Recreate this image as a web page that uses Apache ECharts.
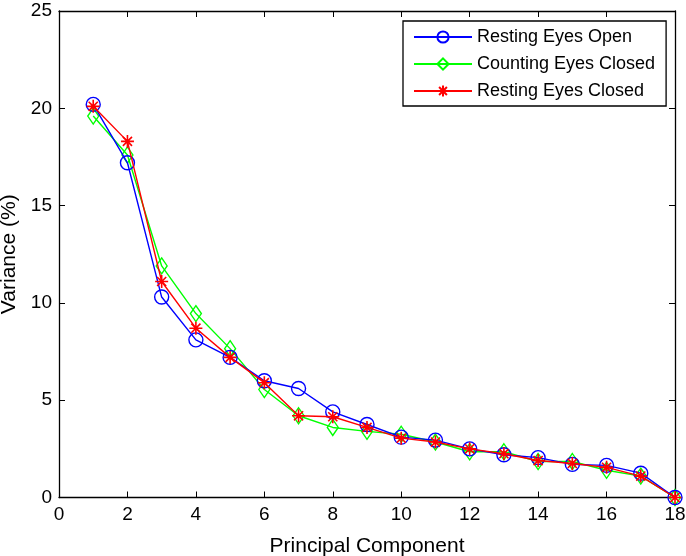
<!DOCTYPE html>
<html>
<head>
<meta charset="utf-8">
<script src="https://cdn.jsdelivr.net/npm/echarts@6/dist/echarts.min.js"></script>
<style>
  html, body { margin: 0; padding: 0; background: #fff; }
  #chart { width: 686px; height: 556px; }
</style>
</head>
<body>
<div id="chart"></div>
<script>
const components = [1,2,3,4,5,6,7,8,9,10,11,12,13,14,15,16,17,18];
const restingEyesOpen = [20.2,17.2,10.3,8.1,7.2,6.0,5.6,4.4,3.75,3.1,2.95,2.5,2.2,2.05,1.7,1.65,1.25,0];
const countingEyesClosed = [19.6,17.6,11.9,9.45,7.65,5.55,4.2,3.6,3.4,3.25,2.85,2.35,2.35,1.85,1.85,1.4,1.1,0];
const restingEyesClosed = [20.1,18.3,11.1,8.7,7.2,5.9,4.2,4.15,3.6,3.05,2.85,2.5,2.25,1.9,1.75,1.55,1.1,0];
const seriesNames = ['Resting Eyes Open','Counting Eyes Closed','Resting Eyes Closed'];

const FONT = "'Liberation Sans', Arial, sans-serif";
const starPath = 'path://M0,-10 L0,10 M-10,0 L10,0 M-7,-7 L7,7 M-7,7 L7,-7';

function pairs(vals) { return components.map((c, i) => [c, vals[i]]); }

const chart = echarts.init(document.getElementById('chart'), null, { renderer: 'canvas' });

const tickCommon = { show: true, inside: true, length: 6, lineStyle: { color: '#000', width: 1 } };
const lineCommon = { show: true, onZero: false, lineStyle: { color: '#000', width: 1.3 } };

chart.setOption({
  animation: false,
  backgroundColor: '#fff',
  grid: { left: 59, top: 11, right: 11, bottom: 58.5, containLabel: false, outerBoundsMode: 'none' },
  legend: {
    orient: 'vertical',
    left: 403,
    top: 21,
    padding: [7, 11, 6, 10],
    itemGap: 9,
    itemWidth: 58,
    itemHeight: 14,
    backgroundColor: '#fff',
    borderColor: '#000',
    borderWidth: 1.3,
    textStyle: { fontFamily: FONT, fontSize: 18, color: '#000' },
    data: seriesNames
  },
  xAxis: [
    {
      type: 'value', min: 0, max: 18, interval: 2, position: 'bottom',
      name: 'Principal Component', nameLocation: 'middle', nameGap: 38,
      nameTextStyle: { fontFamily: FONT, fontSize: 21, color: '#000' },
      axisLine: lineCommon, axisTick: tickCommon,
      axisLabel: { fontFamily: FONT, fontSize: 19, color: '#000', margin: 8 },
      splitLine: { show: false }
    },
    {
      type: 'value', min: 0, max: 18, interval: 2, position: 'top',
      axisLine: lineCommon, axisTick: tickCommon,
      axisLabel: { show: false }, splitLine: { show: false }
    }
  ],
  yAxis: [
    {
      type: 'value', min: 0, max: 25, interval: 5, position: 'left',
      name: 'Variance (%)', nameLocation: 'middle', nameGap: 35,
      nameTextStyle: { fontFamily: FONT, fontSize: 21, color: '#000' },
      axisLine: lineCommon, axisTick: tickCommon,
      axisLabel: { fontFamily: FONT, fontSize: 19, color: '#000', margin: 7 },
      splitLine: { show: false }
    },
    {
      type: 'value', min: 0, max: 25, interval: 5, position: 'right',
      axisLine: lineCommon, axisTick: tickCommon,
      axisLabel: { show: false }, splitLine: { show: false }
    }
  ],
  series: [
    {
      name: seriesNames[0], type: 'line', xAxisIndex: 0, yAxisIndex: 0,
      data: pairs(restingEyesOpen),
      symbol: 'circle', symbolSize: 14, showAllSymbol: true,
      lineStyle: { color: '#0000ff', width: 1.4 },
      itemStyle: { color: 'rgba(0,0,0,0)', borderColor: '#0000ff', borderWidth: 1.4 },
      z: 3
    },
    {
      name: seriesNames[1], type: 'line', xAxisIndex: 0, yAxisIndex: 0,
      data: pairs(countingEyesClosed),
      symbol: 'diamond', symbolSize: [11, 16], showAllSymbol: true,
      lineStyle: { color: '#00ff00', width: 1.4 },
      itemStyle: { color: 'rgba(0,0,0,0)', borderColor: '#00ff00', borderWidth: 1.4 },
      z: 2
    },
    {
      name: seriesNames[2], type: 'line', xAxisIndex: 0, yAxisIndex: 0,
      data: pairs(restingEyesClosed),
      symbol: starPath, symbolSize: 13, showAllSymbol: true,
      lineStyle: { color: '#ff0000', width: 1.4 },
      itemStyle: { color: 'rgba(0,0,0,0)', borderColor: '#ff0000', borderWidth: 1.6 },
      z: 4
    }
  ]
});
</script>
</body>
</html>
